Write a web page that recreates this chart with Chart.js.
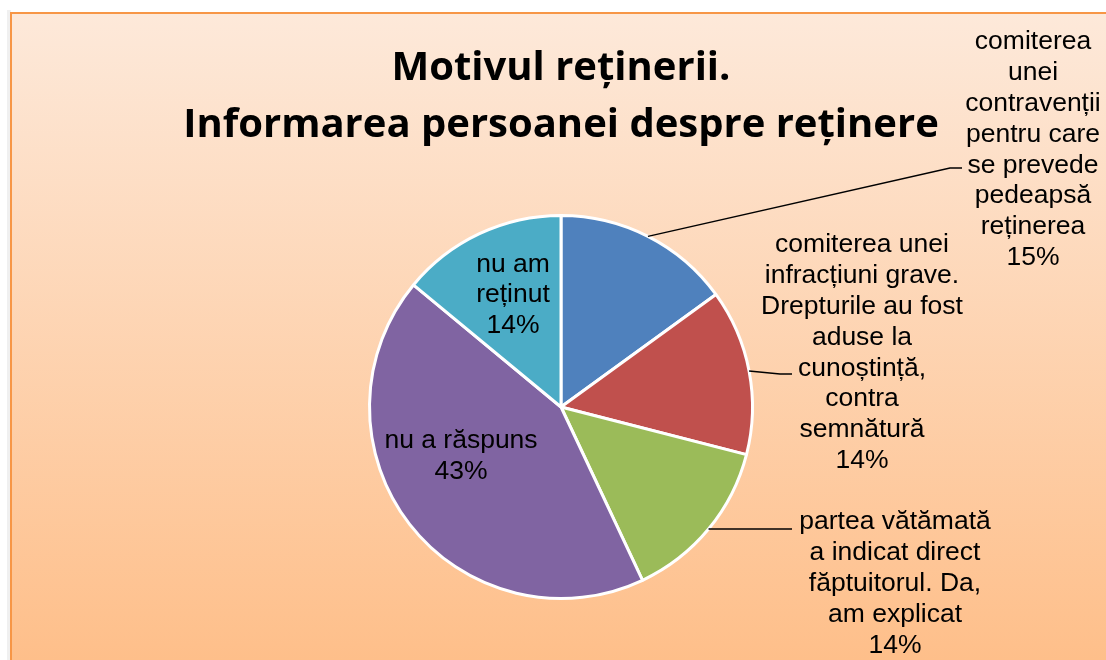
<!DOCTYPE html>
<html>
<head>
<meta charset="utf-8">
<script src="https://cdn.jsdelivr.net/npm/chart.js@4.4.1/dist/chart.umd.min.js"></script>
<style>
  html, body { margin: 0; padding: 0; background: #ffffff; }
  #wrap { width: 1106px; height: 660px; position: relative; }
</style>
</head>
<body>
<div id="wrap"><canvas id="c" width="1106" height="660"></canvas></div>
<script>
// ---- data ----
const categories = [
  "comiterea unei contravenții pentru care se prevede pedeapsă reținerea",
  "comiterea unei infracțiuni grave. Drepturile au fost aduse la cunoștință, contra semnătură",
  "partea vătămată a indicat direct făptuitorul. Da, am explicat",
  "nu a răspuns",
  "nu am reținut"
];
const values = [15, 14, 14, 43, 14];
const labelLines = [
  ["comiterea", "unei", "contravenții", "pentru care", "se prevede", "pedeapsă", "reținerea"],
  ["comiterea unei", "infracțiuni grave.", "Drepturile au fost", "aduse la", "cunoștință,", "contra", "semnătură"],
  ["partea vătămată", "a indicat direct", "făptuitorul. Da,", "am explicat"],
  ["nu a răspuns"],
  ["nu am", "reținut"]
];
const colors = ["#4F81BD", "#C0504D", "#9BBB59", "#8064A2", "#4BACC6"];
const titleLines = ["Motivul reținerii.", "Informarea persoanei despre reținere"];

// ---- label layout (offsets relative to pie centre, in px) ----
const labelLayout = [
  { outside: true,  elbow: [389, -239], end: [401, -239], text: [472, -365] },
  { outside: true,  elbow: [219, -33],  end: [231, -33],  text: [301, -162] },
  { outside: true,  elbow: null,        end: [231, 119],  text: [334, 115] },
  { outside: false, text: [-100, 49] },
  { outside: false, text: [-48, -112] }
];

const LABEL_FONT = '26.5px "Liberation Sans", Arial, sans-serif';
const LINE_H = 30.8;

const bgPlugin = {
  id: 'bg',
  beforeDraw(chart) {
    const ctx = chart.ctx;
    ctx.save();
    ctx.fillStyle = '#ffffff';
    ctx.fillRect(0, 0, chart.width, chart.height);
    ctx.fillStyle = 'rgba(0,0,0,0.06)';
    ctx.fillRect(7, 10, 4, chart.height);
    const g = ctx.createLinearGradient(0, 12, 0, chart.height);
    g.addColorStop(0, '#FDE9DA');
    g.addColorStop(1, '#FEBF8A');
    ctx.fillStyle = g;
    ctx.fillRect(10, 12, chart.width, chart.height);
    ctx.strokeStyle = '#F79646';
    ctx.lineWidth = 2;
    ctx.beginPath();
    ctx.moveTo(11, chart.height + 5);
    ctx.lineTo(11, 13);
    ctx.lineTo(chart.width + 5, 13);
    ctx.stroke();
    ctx.restore();
  }
};

const labelPlugin = {
  id: 'labels',
  afterDatasetsDraw(chart) {
    const ctx = chart.ctx;
    const meta = chart.getDatasetMeta(0);
    const total = values.reduce((a, b) => a + b, 0);
    ctx.save();
    ctx.font = LABEL_FONT;
    ctx.fillStyle = '#000';
    ctx.textAlign = 'center';
    ctx.textBaseline = 'middle';
    meta.data.forEach((arc, i) => {
      const cx = arc.x, cy = arc.y, r = arc.outerRadius;
      const lay = labelLayout[i];
      const pct = Math.round(values[i] / total * 100) + '%';
      const lines = labelLines[i].concat([pct]);
      if (lay.outside) {
        const mid = (arc.startAngle + arc.endAngle) / 2;
        const p0 = [cx + r * Math.cos(mid), cy + r * Math.sin(mid)];
        ctx.strokeStyle = '#000';
        ctx.lineWidth = 1.5;
        ctx.beginPath();
        ctx.moveTo(p0[0], p0[1]);
        if (lay.elbow) ctx.lineTo(cx + lay.elbow[0], cy + lay.elbow[1]);
        else ctx.lineTo(cx + lay.end[0] - 10, p0[1]);
        ctx.lineTo(cx + lay.end[0], lay.elbow ? cy + lay.end[1] : p0[1]);
        ctx.stroke();
        lines.forEach((t, k) => ctx.fillText(t, cx + lay.text[0], cy + lay.text[1] + k * LINE_H));
      } else {
        const n = lines.length;
        lines.forEach((t, k) => ctx.fillText(t, cx + lay.text[0], cy + lay.text[1] + (k - (n - 1) / 2) * LINE_H));
      }
    });
    ctx.restore();
  }
};

new Chart(document.getElementById('c'), {
  type: 'pie',
  data: {
    labels: categories,
    datasets: [{
      data: values,
      backgroundColor: colors,
      borderColor: '#ffffff',
      borderWidth: 3
    }]
  },
  options: {
    responsive: false,
    animation: false,
    events: [],
    layout: { padding: { left: 16, right: 0, top: 0, bottom: 60 } },
    plugins: {
      legend: { display: false },
      tooltip: { enabled: false },
      title: {
        display: true,
        text: titleLines,
        color: '#000',
        font: { family: '"Open Sans", "Noto Sans", sans-serif', size: 40, weight: 'bold', lineHeight: 1.425 },
        padding: { top: 40, bottom: 60 }
      }
    }
  },
  plugins: [bgPlugin, labelPlugin]
});
</script>
</body>
</html>
